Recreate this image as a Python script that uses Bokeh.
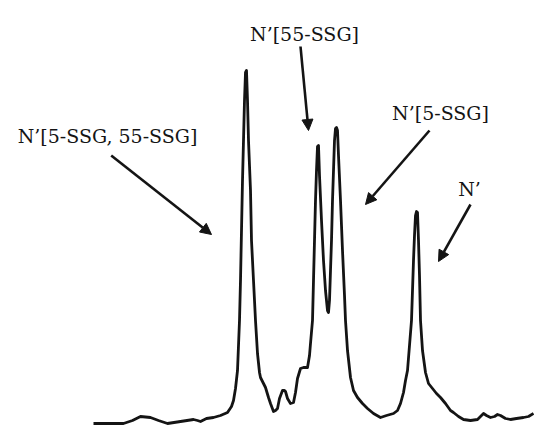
from bokeh.plotting import figure
from bokeh.models import Range1d, Arrow, NormalHead, Label
from bokeh.embed import file_html
from bokeh.resources import INLINE

# Chromatogram trace (arbitrary time units, arbitrary signal units)
time = [9.3, 11.0, 12.3, 13.2, 14.0, 15.0, 15.8, 16.7, 18.0, 19.3, 19.7, 20.0, 20.6, 21.3, 22.0, 22.7,
        23.1, 23.3, 23.5, 23.7, 23.8, 23.9, 24.0, 24.1, 24.2, 24.3, 24.4, 24.5, 24.6, 24.7, 24.8, 25.0,
        25.1, 25.3, 25.5, 25.7, 25.9, 26.0, 26.3, 26.5, 26.8, 27.0, 27.3, 27.5, 27.7, 27.9, 28.2, 28.4,
        28.5, 28.7, 29.0, 29.3, 29.5, 29.7, 30.0, 30.3, 30.7, 30.9, 31.0, 31.2, 31.3, 31.4, 31.5, 31.6,
        31.7, 31.8, 31.9, 32.1, 32.3, 32.5, 32.7, 32.8, 32.9, 33.0, 33.1, 33.2, 33.3, 33.4, 33.5, 33.6,
        33.7, 33.8, 34.0, 34.2, 34.4, 34.5, 34.7, 35.0, 35.3, 35.7, 36.2, 36.7, 37.3, 38.0, 38.6, 39.3,
        39.7, 40.0, 40.3, 40.5, 40.7, 40.9, 41.1, 41.2, 41.3, 41.4, 41.5, 41.6, 41.7, 41.8, 41.9, 42.0,
        42.2, 42.5, 42.8, 43.2, 43.6, 44.0, 44.5, 45.0, 45.3, 45.8, 46.3, 47.0, 47.7, 48.0, 48.3, 48.6,
        49.0, 49.4, 49.7, 50.0, 50.5, 51.0, 51.6, 52.3, 52.8, 53.3]
signal = [2, 2, 2, 5, 9, 8, 5, 2, 4, 6, 5, 4, 7, 8, 10, 13,
          19, 25, 37, 55, 80, 105, 145, 195, 245, 285, 325, 353, 355, 325, 285, 235,
          185, 145, 105, 72, 53, 48, 42, 38, 28, 22, 14, 15, 17, 27, 35, 35,
          34, 27, 22, 23, 33, 47, 57, 58, 58, 70, 82, 105, 145, 185, 225, 255,
          279, 280, 250, 205, 165, 135, 115, 113, 125, 155, 185, 225, 255, 285, 297, 298,
          295, 270, 225, 175, 130, 105, 75, 48, 35, 28, 22, 17, 12, 8, 10, 12,
          15, 22, 33, 45, 55, 80, 105, 135, 165, 190, 210, 214, 213, 185, 150, 105,
          75, 53, 42, 37, 32, 28, 22, 15, 13, 9, 6, 5, 6, 9, 12, 10,
          8, 9, 11, 10, 7, 6, 7, 8, 9, 12]

# Peak annotations
labels = ["N\u2019[55-SSG]", "N\u2019[5-SSG, 55-SSG]", "N\u2019[5-SSG]", "N\u2019"]
label_x = [30.4, 10.7, 44.0, 46.9]
label_y = [392, 290, 313, 237]
arrow_x0 = [30.0, 11.07, 42.9, 47.0]
arrow_y0 = [379, 270, 295, 221]
arrow_x1 = [30.8, 21.1, 36.5, 43.8]
arrow_y1 = [295, 191, 221, 164]

ink = "#141414"

p = figure(width=534, height=425, output_backend="svg", toolbar_location=None,
           x_range=Range1d(0, 53.4), y_range=Range1d(0, 425),
           min_border=0, background_fill_color="white", border_fill_color="white")
p.xaxis.visible = False
p.yaxis.visible = False
p.grid.visible = False
p.outline_line_color = None

p.line(time, signal, line_color=ink, line_width=2.8, line_join="round")

for t, x, y in zip(labels, label_x, label_y):
    p.add_layout(Label(x=x, y=y, text=t, text_font="DejaVu Serif", text_font_size="19px",
                       text_color=ink, text_align="center", text_baseline="alphabetic"))

for x0, y0, x1, y1 in zip(arrow_x0, arrow_y0, arrow_x1, arrow_y1):
    p.add_layout(Arrow(x_start=x0, y_start=y0, x_end=x1, y_end=y1,
                       line_color=ink, line_width=2.6,
                       end=NormalHead(size=11, fill_color=ink, line_color=ink, line_width=1)))

open("out.html", "w").write(file_html(p, INLINE))
